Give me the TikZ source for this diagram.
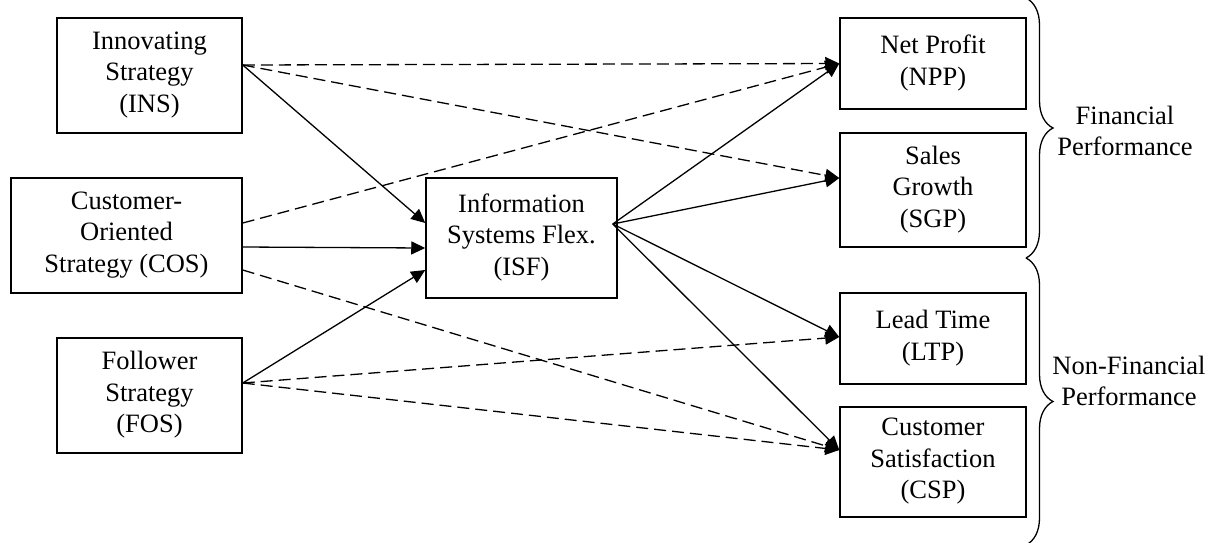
\documentclass[tikz,border=0pt]{standalone}
\usepackage{fontspec}
\setmainfont{Liberation Serif}
\usetikzlibrary{arrows.meta,calc,decorations.pathreplacing}
\begin{document}
\begin{tikzpicture}[x=1pt,y=-1pt,
  box/.style={draw,line width=1.5pt,inner sep=0pt,align=center,
    font=\fontsize{26.5}{31.7}\selectfont,text depth=7pt},
  lbl/.style={align=center,font=\fontsize{26.5}{31.7}\selectfont},
  conn/.style={line width=1.3pt,-{Triangle[length=14pt,width=13pt]}},
  dconn/.style={conn,dash pattern=on 12pt off 6pt},
  brc/.style={decorate,decoration={brace,amplitude=27pt},line width=1.3pt}]
\useasboundingbox (0,0) rectangle (1212,542);
\node[box,minimum width=185pt,minimum height=115pt] (INS) at (149.5,75.5) {Innovating\\Strategy\\(INS)};
\node[box,minimum width=231pt,minimum height=115pt] (COS) at (126.5,235.5) {Customer-\\Oriented\\Strategy (COS)};
\node[box,minimum width=185pt,minimum height=115pt] (FOS) at (149.5,395.5) {Follower\\Strategy\\(FOS)};
\node[box,minimum width=191pt,minimum height=120pt] (ISF) at (521.5,238) {Information\\Systems Flex.\\(ISF)};
\node[box,minimum width=186pt,minimum height=91pt] (NPP) at (933,63.5) {Net Profit\\(NPP)};
\node[box,minimum width=186pt,minimum height=114pt] (SGP) at (933,190) {Sales\\Growth\\(SGP)};
\node[box,minimum width=186pt,minimum height=91pt] (LTP) at (933,338.5) {Lead Time\\(LTP)};
\node[box,minimum width=186pt,minimum height=110pt] (CSP) at (933,462) {Customer\\Satisfaction\\(CSP)};
\node[lbl] (FIN) at (1125,131) {Financial\\Performance};
\node[lbl] (NFIN) at (1129,381) {Non-Financial\\Performance};
% ports
\coordinate (insout) at ($(INS.east)+(0,-10.5)$);
\coordinate (cosa) at ($(COS.east)+(0,-12.5)$);
\coordinate (cosb) at ($(COS.east)+(0,11.5)$);
\coordinate (cosc) at ($(COS.east)+(0,34.5)$);
\coordinate (fosout) at ($(FOS.east)+(0,-12.5)$);
\coordinate (isfa) at ($(ISF.west)+(0,-15)$);
\coordinate (isfb) at ($(ISF.west)+(0,10)$);
\coordinate (isfc) at ($(ISF.west)+(0,32)$);
\coordinate (isfout) at ($(ISF.east)+(-5,-14)$);
\coordinate (nppin) at (NPP.west);
\coordinate (sgpin) at ($(SGP.west)+(0,-12)$);
\coordinate (ltpin) at ($(LTP.west)+(0,-1.5)$);
\coordinate (cspin) at ($(CSP.west)+(0,-12)$);
% solid
\draw[conn] (insout) -- (isfa);
\draw[conn] (cosb) -- (isfb);
\draw[conn] (fosout) -- (isfc);
\draw[conn] (isfout) -- (nppin);
\draw[conn] (isfout) -- (sgpin);
\draw[conn] (isfout) -- (ltpin);
\draw[conn] (isfout) -- (cspin);
% dashed
\draw[dconn] (insout) -- (nppin);
\draw[dconn] (insout) -- (sgpin);
\draw[dconn] (cosa) -- (nppin);
\draw[dconn] (cosc) -- (cspin);
\draw[dconn] (fosout) -- (ltpin);
\draw[dconn] (fosout) -- (cspin);
% braces
\coordinate (b1) at (1026,-2);
\coordinate (b2) at (1026,258);
\coordinate (b3) at (1026,545);
\draw[brc] (b1) -- (b2);
\draw[brc] (b2) -- (b3);
\end{tikzpicture}
\end{document}
